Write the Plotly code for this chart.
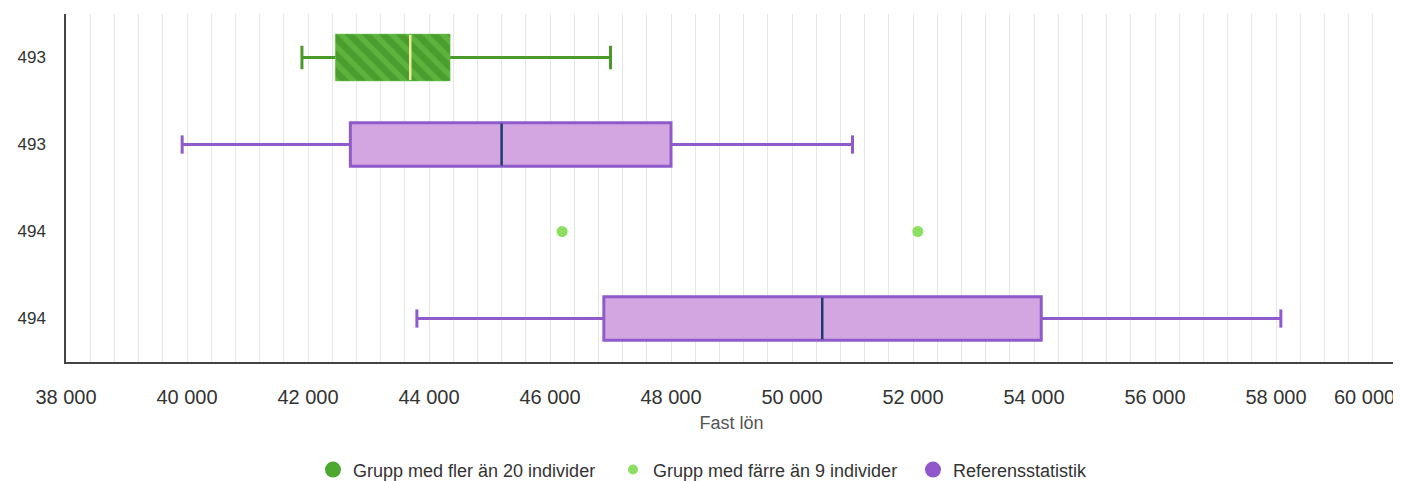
import plotly.graph_objects as go

# ---- data ----
row_labels = ["493", "493", "494", "494"]
row_pos = [0, 1, 2, 3]

green_box_row = [0]
green_low = [41900]
green_q1 = [42450]
green_med = [43690]
green_q3 = [44350]
green_high = [47000]

ref_rows = [1, 3]
ref_low = [39920, 43800]
ref_q1 = [42700, 46890]
ref_med = [45200, 50500]
ref_q3 = [48000, 54120]
ref_high = [51000, 58080]

small_row = [2, 2]
small_vals = [46200, 52080]

x_ticks = [38000, 40000, 42000, 44000, 46000, 48000, 50000, 52000, 54000, 56000, 58000]
x_last_tick = 60000

legend_names = ["Grupp med fler än 20 individer", "Grupp med färre än 9 individer", "Referensstatistik"]

GREEN_DARK = "#4a9e2e"
GREEN_LIGHT = "#6fc94c"
GREEN_LINE = "#4a9a2a"
GREEN_MED = "#f3eb9a"
DOT_GREEN = "#8ddf62"
PURPLE_FILL = "#d3a6e2"
PURPLE_LINE = "#8f5bcb"
PURPLE_MED = "#1d3b6e"
FONT = "Liberation Sans, Arial, sans-serif"

# the page body has a default 8px margin; shrink the figure so it fits the window
BODY = 8
W, H = 1401 - BODY, 481 - BODY

fig = go.Figure()


def fmt(v):
    return f"{v:,}".replace(",", " ")


def add_box(rows, low, q1, med, q3, high, fill, line, medc, boxw, capw, pattern=None, lw=3, blw=3, blc=None):
    wx, wy = [], []
    for r, lo, a, b, hi in zip(rows, low, q1, q3, high):
        wx += [lo, a, None, b, hi, None]
        wy += [r, r, None, r, r, None]
    fig.add_trace(go.Scatter(x=wx, y=wy, mode="lines", line=dict(color=line, width=lw),
                             showlegend=False, hoverinfo="skip"))
    cx, cy = [], []
    for r, lo, hi in zip(rows, low, high):
        for v in (lo, hi):
            cx += [v, v, None]
            cy += [r - capw / 2, r + capw / 2, None]
    fig.add_trace(go.Scatter(x=cx, y=cy, mode="lines", line=dict(color=line, width=lw),
                             showlegend=False, hoverinfo="skip"))
    marker = dict(color=fill, line=dict(color=blc or line, width=blw))
    if pattern is not None:
        marker["pattern"] = pattern
    fig.add_trace(go.Bar(y=rows, x=[b - a for a, b in zip(q1, q3)], base=q1, orientation="h",
                         width=boxw, marker=marker, showlegend=False, hoverinfo="skip"))
    mx, my = [], []
    for r, m in zip(rows, med):
        mx += [m, m, None]
        my += [r - boxw / 2 + 0.01, r + boxw / 2 - 0.01, None]
    fig.add_trace(go.Scatter(x=mx, y=my, mode="lines", line=dict(color=medc, width=2.5),
                             showlegend=False, hoverinfo="skip"))


add_box(green_box_row, green_low, green_q1, green_med, green_q3, green_high,
        GREEN_DARK, GREEN_LINE, GREEN_MED, 0.54, 0.27,
        pattern=dict(shape="\\", fgcolor=GREEN_LIGHT, bgcolor=GREEN_DARK, size=12, solidity=0.45),
        lw=3, blw=0.5, blc="#7cc95c")

add_box(ref_rows, ref_low, ref_q1, ref_med, ref_q3, ref_high,
        PURPLE_FILL, PURPLE_LINE, PURPLE_MED, 0.5, 0.21, lw=3, blw=3)

fig.add_trace(go.Scatter(x=small_vals, y=small_row, mode="markers",
                         marker=dict(color=DOT_GREEN, size=11), showlegend=False, hoverinfo="skip"))

fig.add_trace(go.Scatter(x=[None], y=[None], mode="markers", name=legend_names[0],
                         marker=dict(color="#4ca82e", size=17, line=dict(width=0))))
fig.add_trace(go.Scatter(x=[None], y=[None], mode="markers", name=legend_names[1],
                         marker=dict(color=DOT_GREEN, size=10)))
fig.add_trace(go.Scatter(x=[None], y=[None], mode="markers", name=legend_names[2],
                         marker=dict(color="#9058cc", size=17)))

fig.add_annotation(x=1, y=0, xref="paper", yref="paper", yshift=-35,
                   text=fmt(x_last_tick), showarrow=False,
                   xanchor="right", yanchor="middle",
                   font=dict(family=FONT, size=20, color="#333333"))

fig.update_layout(
    width=W, height=H,
    margin=dict(l=66 - BODY, r=4, t=14 - BODY, b=119, autoexpand=False),
    plot_bgcolor="white", paper_bgcolor="white",
    font=dict(family=FONT, color="#333333"),
    barmode="overlay",
    xaxis=dict(range=[38000, 60000], tickvals=x_ticks,
               ticktext=[fmt(v) for v in x_ticks],
               tickfont=dict(family=FONT, size=20, color="#333333"), ticks="",
               ticklabelstandoff=16,
               showgrid=True, gridcolor="#e6e6e6", gridwidth=1,
               minor=dict(dtick=400, tick0=38000, showgrid=True, gridcolor="#e6e6e6", gridwidth=1),
               showline=True, linecolor="#444444", linewidth=1.5,
               zeroline=False, fixedrange=True, automargin=False,
               title=dict(text="Fast lön", font=dict(family=FONT, size=18, color="#555555"), standoff=10)),
    yaxis=dict(range=[3.5, -0.5], tickvals=row_pos, ticktext=row_labels,
               tickfont=dict(family=FONT, size=17, color="#333333"), ticks="", showgrid=False,
               showline=True, linecolor="#444444", linewidth=1.5, zeroline=False,
               ticklabelstandoff=15, automargin=False),
    legend=dict(orientation="h", x=(313 - 66) / 1331, xanchor="left", y=-0.31, yanchor="middle",
                font=dict(family=FONT, size=18, color="#333333"), itemsizing="trace",
                traceorder="normal", itemwidth=30, entrywidth=255, entrywidthmode="pixels"),
    showlegend=True,
)

fig.write_html("out.html")
